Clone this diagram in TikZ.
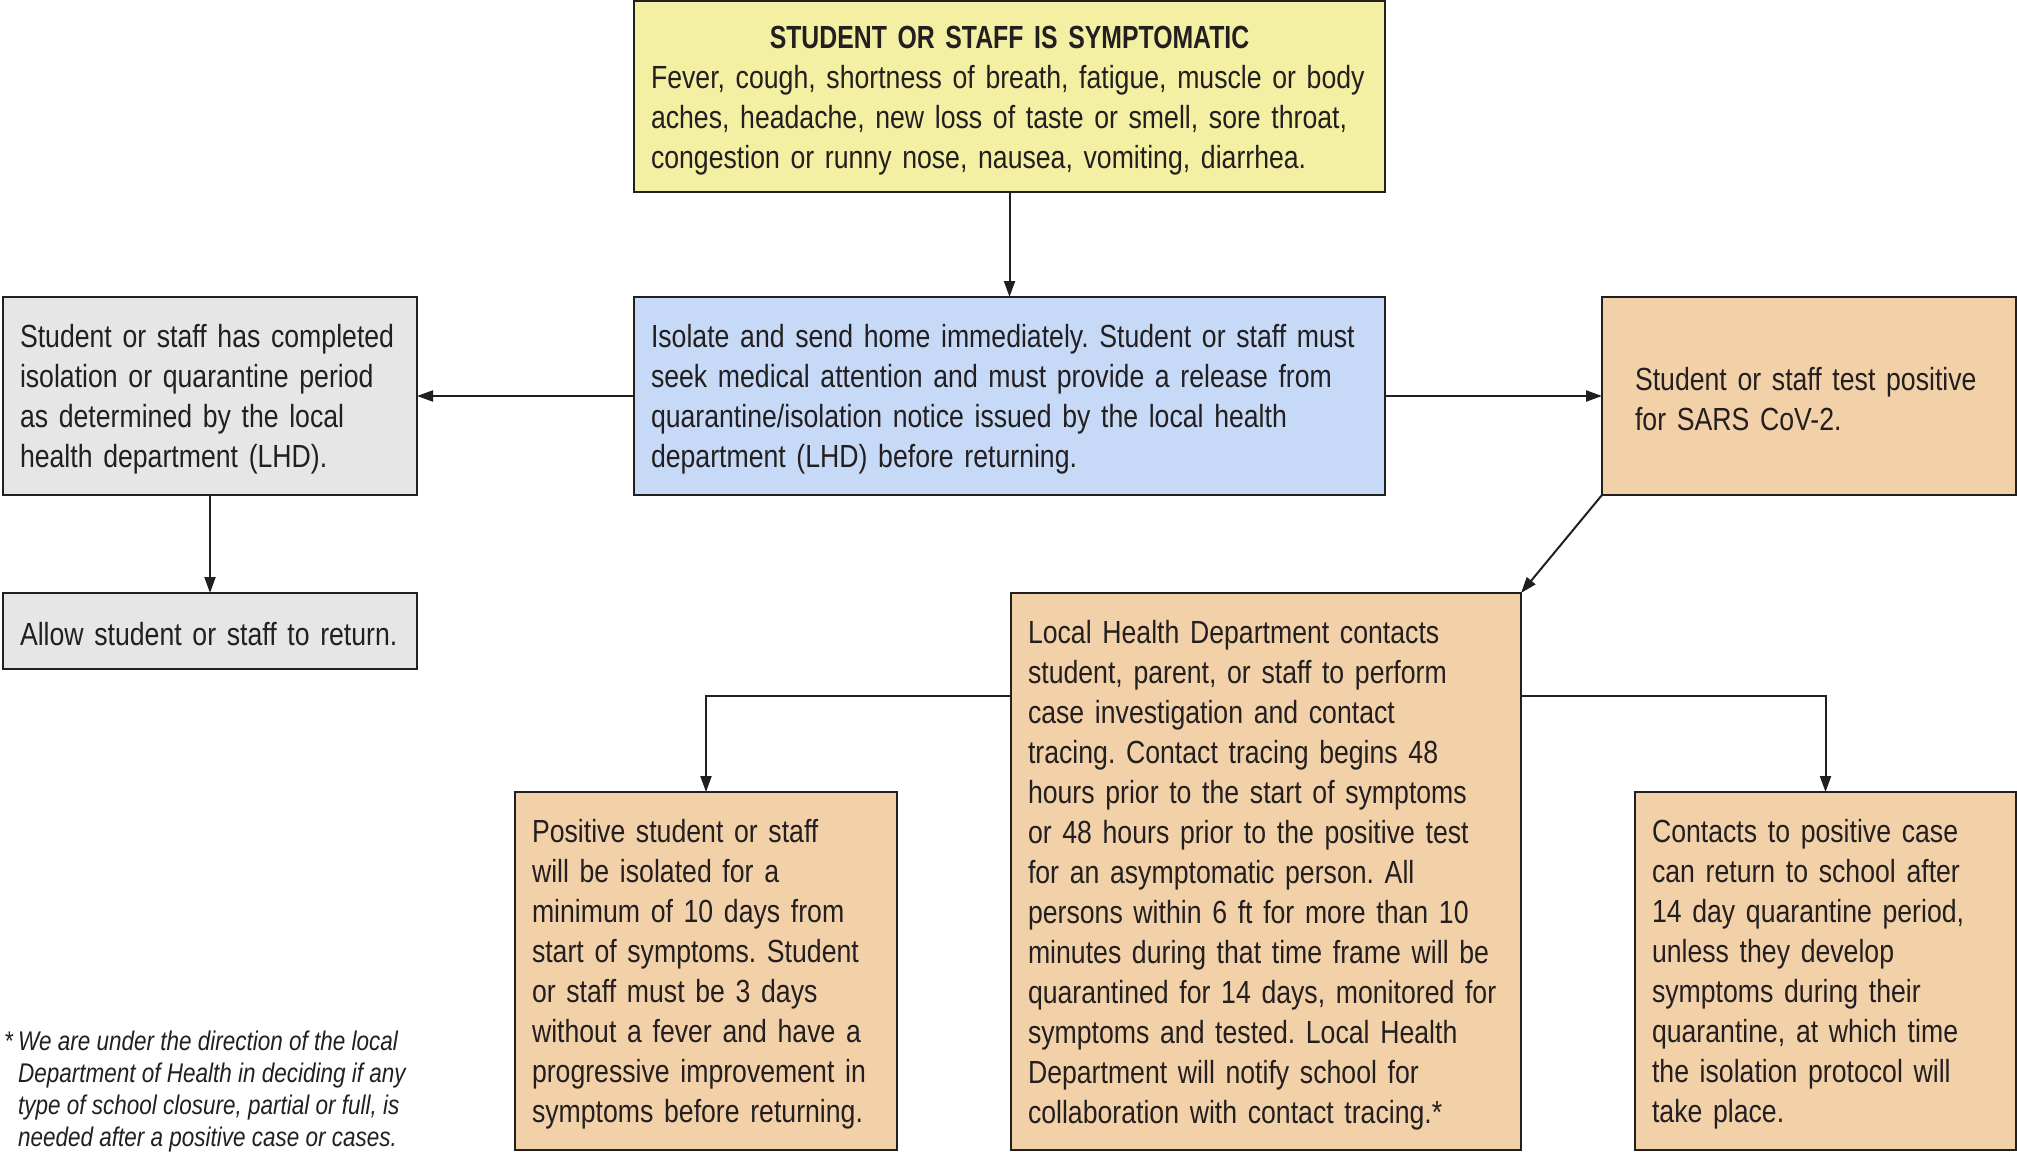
\documentclass[tikz,border=0pt]{standalone}
\usepackage{fontspec}
\setmainfont{Liberation Sans}[FakeStretch=0.833]
\newfontfamily\titlefont{Liberation Sans}[FakeStretch=0.775]
\usetikzlibrary{arrows.meta,calc}
\definecolor{ink}{HTML}{231F20}
\definecolor{yel}{HTML}{F3F0A3}
\definecolor{blu}{HTML}{C6D9F7}
\definecolor{gry}{HTML}{E6E6E6}
\definecolor{org}{HTML}{F2D1A8}
\tikzset{
  box/.style={draw=ink, line width=2pt, rectangle, outer sep=0pt, inner xsep=17pt, inner ysep=0pt,
    align=left, anchor=north west, text=ink, font=\fontsize{32}{40}\selectfont\frenchspacing,
    execute at begin node={\rule{0pt}{30pt}}},
  arr/.style={draw=ink, line width=2pt, -{Triangle[length=16pt,width=11pt]}},
}
\begin{document}
\begin{tikzpicture}[x=1pt,y=-1pt]
\useasboundingbox[fill=white] (0,0) rectangle (2017,1151);
% boxes
\node[box, fill=yel, minimum width=751pt, minimum height=191pt, text width=717pt] (top) at (634,1)
 {\makebox[\linewidth][c]{\titlefont\bfseries STUDENT OR STAFF IS SYMPTOMATIC}\\
  Fever, cough, shortness of breath, fatigue, muscle or body\\
  aches, headache, new loss of taste or smell, sore throat,\\
  congestion or runny nose, nausea, vomiting, diarrhea.};
\node[box, fill=blu, minimum width=751pt, minimum height=198pt, text width=717pt] (blue) at (634,297)
 {Isolate and send home immediately. Student or staff must\\
  seek medical attention and must provide a release from\\
  quarantine/isolation notice issued by the local health\\
  department (LHD) before returning.};
\node[box, fill=gry, minimum width=414pt, minimum height=198pt, text width=380pt] (grey) at (3,297)
 {Student or staff has completed\\
  isolation or quarantine period\\
  as determined by the local\\
  health department (LHD).};
\node[box, fill=gry, minimum width=414pt, minimum height=76pt, text width=380pt] (allow) at (3,593)
 {Allow student or staff to return.};
\node[box, fill=org, minimum width=414pt, minimum height=198pt, text width=348pt, inner xsep=33pt] (sars) at (1602,297)
 {Student or staff test positive\\
  for SARS CoV-2.};
\node[box, fill=org, minimum width=510pt, minimum height=557pt, text width=476pt] (lhd) at (1011,593)
 {Local Health Department contacts\\
  student, parent, or staff to perform\\
  case investigation and contact\\
  tracing. Contact tracing begins 48\\
  hours prior to the start of symptoms\\
  or 48 hours prior to the positive test\\
  for an asymptomatic person. All\\
  persons within 6 ft for more than 10\\
  minutes during that time frame will be\\
  quarantined for 14 days, monitored for\\
  symptoms and tested. Local Health\\
  Department will notify school for\\
  collaboration with contact tracing.*};
\node[box, fill=org, minimum width=382pt, minimum height=358pt, text width=348pt] (pos) at (515,792)
 {Positive student or staff\\
  will be isolated for a\\
  minimum of 10 days from\\
  start of symptoms. Student\\
  or staff must be 3 days\\
  without a fever and have a\\
  progressive improvement in\\
  symptoms before returning.};
\node[box, fill=org, minimum width=381pt, minimum height=358pt, text width=347pt] (cont) at (1635,792)
 {Contacts to positive case\\
  can return to school after\\
  14 day quarantine period,\\
  unless they develop\\
  symptoms during their\\
  quarantine, at which time\\
  the isolation protocol will\\
  take place.};
% footnote
\node[anchor=north west, inner sep=0pt, align=left, text=ink, font=\fontsize{27}{32}\selectfont\itshape] (note) at (4,1031)
 {\makebox[14pt][l]{*}We are under the direction of the local\\
  \hspace*{14pt}Department of Health in deciding if any\\
  \hspace*{14pt}type of school closure, partial or full, is\\
  \hspace*{14pt}needed after a positive case or cases.};
% connectors
\coordinate (lhdL) at (lhd.west |- 0,696);
\coordinate (lhdR) at (lhd.east |- 0,696);
\draw[arr] (top.south) -- (blue.north);
\draw[arr] (blue.west) -- (grey.east);
\draw[arr] (blue.east) -- (sars.west);
\draw[arr] (grey.south) -- (allow.north);
\draw[arr] (sars.south west) -- (lhd.north east);
\draw[arr] (lhdL) -| (pos.north);
\draw[arr] (lhdR) -| (cont.north);
\end{tikzpicture}
\end{document}
